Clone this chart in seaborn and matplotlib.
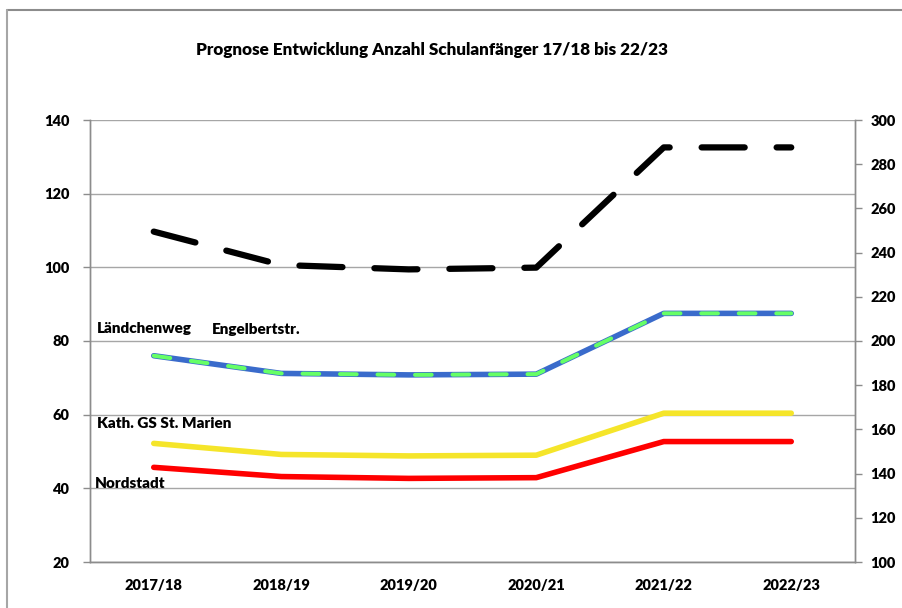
import matplotlib
matplotlib.use("Agg")
import matplotlib.pyplot as plt
import seaborn as sns
import pandas as pd
from matplotlib.lines import Line2D

sns.set_theme(style="white")
plt.rcParams['font.family'] = ['Lato', 'DejaVu Sans']
plt.rcParams['font.weight'] = 'heavy'
plt.rcParams['lines.scale_dashes'] = False

years = ["2017/18", "2018/19", "2019/20", "2020/21", "2021/22", "2022/23"]
laendchenweg = [76, 71.2, 70.8, 71.0, 87.5, 87.5]
engelbertstr = [76, 71.2, 70.8, 71.0, 87.5, 87.5]
kath_marien = [52.2, 49.2, 48.8, 49.0, 60.4, 60.4]
nordstadt = [45.7, 43.2, 42.7, 42.9, 52.7, 52.7]
gesamt = [249.5, 234.4, 232.4, 233.2, 287.6, 287.6]
left_ticks = list(range(20, 141, 20))
right_ticks = list(range(100, 301, 20))

df = pd.DataFrame({"Jahr": years, "Ländchenweg": laendchenweg, "Engelbertstr.": engelbertstr,
                   "Kath. GS St. Marien": kath_marien, "Nordstadt": nordstadt, "Gesamt": gesamt})

fig = plt.figure(figsize=(9.03, 6.08), dpi=100)
ax = fig.add_axes([90/903, 1-562/608, (855-90)/903, (562-120)/608])
ax2 = ax.twinx()

sns.lineplot(data=df, x="Jahr", y="Nordstadt", ax=ax, color="#FF0000", lw=4.0,
             solid_capstyle="round", sort=False)
sns.lineplot(data=df, x="Jahr", y="Kath. GS St. Marien", ax=ax, color="#F5E52A", lw=4.0,
             solid_capstyle="round", sort=False)
sns.lineplot(data=df, x="Jahr", y="Ländchenweg", ax=ax, color="#3A6BCB", lw=4.0,
             solid_capstyle="round", sort=False)
sns.lineplot(data=df, x="Jahr", y="Engelbertstr.", ax=ax, color="#66FF66", lw=2.9,
             sort=False, dashes=False)
ax.lines[-1].set_dashes([12, 15])
ax.lines[-1].set_dash_capstyle("round")
sns.lineplot(data=df, x="Jahr", y="Gesamt", ax=ax2, color="#000000", lw=4.5, sort=False)
ax2.lines[-1].set_dashes([31, 23])
ax2.lines[-1].set_dash_capstyle("round")

ax.set_xlim(-0.5, 5.5)
ax.set_ylim(20, 140)
ax2.set_ylim(100, 300)
ax.set_yticks(left_ticks, labels=[str(t) for t in left_ticks], fontweight="heavy", fontsize=10.5)
ax2.set_yticks(right_ticks, labels=[str(t) for t in right_ticks], fontweight="heavy", fontsize=10.5)
ax.set_xticks(range(6), labels=years, fontweight="heavy", fontsize=10.5)
ax.set_xticks([i - 0.5 for i in range(7)], minor=True)
ax.set_xlabel("")
ax.set_ylabel("")
ax2.set_ylabel("")

ax.grid(axis="y", color="#A6A6A6", lw=1.0)
ax.set_axisbelow(True)
for a in (ax, ax2):
    for s in a.spines.values():
        s.set_color("#8C8C8C")
        s.set_linewidth(1.0)
    a.spines["top"].set_visible(False)

ax.tick_params(axis="x", which="major", length=0, pad=12, labelcolor="black")
ax.tick_params(axis="x", which="minor", length=5, color="#8C8C8C", direction="out", width=1)
ax.tick_params(axis="y", length=5, color="#8C8C8C", direction="out", width=1, pad=10,
               labelcolor="black")
ax2.tick_params(axis="y", length=5, color="#8C8C8C", direction="out", width=1, pad=6,
                labelcolor="black")

tkw = dict(fontsize=11, fontweight="heavy", color="black", va="center", ha="left")
ax.text(-0.445, 83.3, "Ländchenweg", **tkw)
ax.text(0.457, 83.0, "Engelbertstr.", **tkw)
ax.text(-0.445, 57.7, "Kath. GS St. Marien", **tkw)
ax.text(-0.46, 41.4, "Nordstadt", **tkw)

fig.text(432/903, 1-50/608, "Prognose Entwicklung Anzahl Schulanfänger 17/18 bis 22/23",
         ha="center", va="center", fontsize=12.3, fontweight="heavy", color="black")

fig.add_artist(Line2D([7/903, 1], [1-10/608, 1-10/608], transform=fig.transFigure,
                      color="#8C8C8C", lw=1.5))
fig.add_artist(Line2D([7/903, 7/903], [0, 1-10/608], transform=fig.transFigure,
                      color="#A6A6A6", lw=1.5))

fig.savefig("out.png", dpi=100)
